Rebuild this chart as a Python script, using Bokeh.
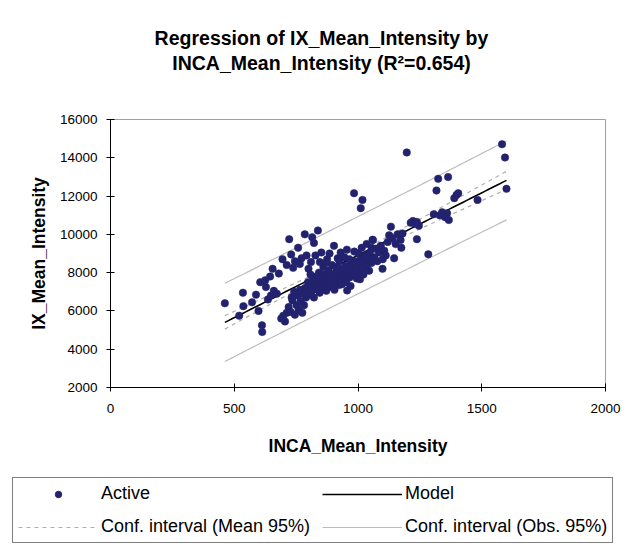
import numpy as np
from bokeh.plotting import figure
from bokeh.layouts import column
from bokeh.models import Legend, LegendItem, Label, FixedTicker, Range1d
from bokeh.embed import file_html
from bokeh.resources import INLINE

# ---------------- data ----------------
inca_mean_intensity = [
    462, 520, 535, 537, 572, 588, 598, 605, 612, 613, 625, 628, 636, 645, 648, 655, 660, 672, 680,
    695, 712, 722, 730, 738, 745, 758, 765, 772, 785, 792, 800, 810, 815, 822, 828, 838, 846, 852,
    860, 875, 885, 903, 918, 930, 955,
    690, 698, 705, 712, 720, 728, 735, 745, 752, 760, 768, 775, 782, 790, 796, 803, 810, 815, 822,
    828, 834, 840, 845, 850, 856, 862, 868, 872, 878, 884, 890, 896, 902, 906, 912, 918, 924, 930,
    936, 940, 946, 950, 956, 960, 966, 972, 976, 982, 988, 992, 998, 1004, 1008, 1012, 1018, 1024,
    1030, 1036, 1042, 1048, 1054, 1060, 1066, 1072, 1078, 1085, 1092, 1099, 1106, 1112, 1120, 1126,
    1133, 1140, 1146, 1152, 1160, 1172,
    880, 895, 905, 915, 925, 935, 945, 952, 965, 970, 985, 995, 1002, 1015, 1022, 1035, 1045, 1055,
    860, 870, 842, 832, 818, 808, 798, 786, 776, 766, 756, 742, 732, 1175, 1180, 1100,
    984, 1011, 1018, 1059, 1197, 1213, 1222, 1230, 1238, 1246, 1238, 1284, 1306, 1317, 1324, 1330,
    1340, 1352, 1360, 1364, 1367, 1389, 1398, 1405, 1483, 1582, 1594, 1600,
]
ix_mean_intensity = [
    6400, 5750, 6950, 6250, 6450, 6850, 6000, 7500, 5250, 4900, 7600, 7250, 6600, 7800, 6800, 8200, 7050, 6900, 7950,
    8700, 8400, 9750, 8950, 8250, 8600, 9300, 8450, 8750, 10000, 8900, 8200, 8550, 9850, 9550, 8900, 10200, 8550, 9050,
    8300, 8700, 9000, 9400, 8750, 9050, 9200,
    5600, 5750, 5450, 5900, 6200, 5950, 6550, 5800, 6300, 6050, 6500, 5900, 6300, 6700, 7000, 6850, 7300, 7050, 6700,
    7400, 7150, 7600, 6950, 7350, 7700, 7200, 7500, 7050, 7800, 7400, 7650, 7250, 7900, 7550, 8100, 7700, 7350, 7950,
    8200, 7600, 7850, 8350, 7070, 8050, 7750, 8450, 8150, 7900, 8600, 8300, 8000, 8450, 7650, 8750, 8200, 8550,
    8900, 8350, 8700, 9050, 8500, 9700, 8800, 9250, 8600, 9050, 9400, 8200, 9150, 8900, 9600, 9950,
    10400, 9800, 8750, 9500, 10000, 9700,
    8100, 8400, 7100, 8300, 8600, 7400, 8800, 7500, 8700, 7300, 9100, 7700, 9000, 9300, 7900, 9500, 8100, 9300,
    7900, 8500, 8000, 7800, 7600, 7900, 7500, 7200, 6900, 7100, 6800, 7000, 6700, 9300, 10050, 8700,
    12150, 11370, 11800, 9720, 14280, 10600, 10700, 10550, 10650, 10450, 9750, 8960, 11050, 12290, 12900, 11000,
    11150, 10900, 11100, 12990, 10750, 11890, 12050, 12150, 11800, 14710, 14015, 12380,
]
x_ticks = [0, 500, 1000, 1500, 2000]
y_ticks = [2000, 4000, 6000, 8000, 10000, 12000, 14000, 16000]
r_squared_text = "0.654"
title_lines = ["Regression of IX_Mean_Intensity by",
               "INCA_Mean_Intensity (R\u00b2=" + r_squared_text + ")"]
x_name = "INCA_Mean_Intensity"
y_name = "IX_Mean_Intensity"
legend_labels = ["Active", "Model", "Conf. interval (Mean 95%)", "Conf. interval (Obs. 95%)"]

# ---------------- regression and 95% intervals ----------------
x = np.array(inca_mean_intensity, dtype=float)
y = np.array(ix_mean_intensity, dtype=float)
n = len(x)
slope, intercept = np.polyfit(x, y, 1)
resid = y - (intercept + slope * x)
s = np.sqrt(np.sum(resid ** 2) / (n - 2))
t975 = 1.972
xm = x.mean()
sxx = np.sum((x - xm) ** 2)
xg = np.linspace(x.min(), x.max(), 80)
yg = intercept + slope * xg
h_mean = t975 * s * np.sqrt(1.0 / n + (xg - xm) ** 2 / sxx)
h_obs = t975 * s * np.sqrt(1.0 + 1.0 / n + (xg - xm) ** 2 / sxx)

FONT = "Liberation Sans"
PT_COLOR = "#22226e"
OBS_STYLE = dict(line_color="#bdbdbd", line_width=1.2)
MEAN_STYLE = dict(line_color="#b0b0b0", line_width=1.2, line_dash="4 4")
MODEL_STYLE = dict(line_color="black", line_width=1.6)
W = 630


def strip(height):
    f = figure(width=W, height=height, output_backend="svg", toolbar_location=None, title=None,
               x_range=Range1d(0, 1), y_range=Range1d(0, 1),
               x_axis_location=None, y_axis_location=None,
               min_border_left=0, min_border_right=0, min_border_top=0, min_border_bottom=0)
    f.frame_align = False
    f.outline_line_color = None
    f.grid.visible = False
    f.background_fill_color = "white"
    f.border_fill_color = "white"
    return f


# ---------------- title strip ----------------
top = strip(110)
for txt, ypos in ((title_lines[0], 73), (title_lines[1], 48)):
    top.add_layout(Label(x=321, y=ypos, x_units="screen", y_units="screen", text=txt,
                         text_align="center", text_baseline="middle", text_font=FONT,
                         text_font_style="bold", text_font_size="19.5px", text_color="black"))

# ---------------- main chart ----------------
p = figure(width=W, height=360, output_backend="svg", toolbar_location=None, title=None,
           x_range=Range1d(0, 2000), y_range=Range1d(2000, 16000),
           min_border_left=110, min_border_right=25, min_border_top=9, min_border_bottom=83)
p.frame_align = False
p.background_fill_color = "white"
p.border_fill_color = "white"
p.outline_line_color = "#a0a0a0"
p.outline_line_width = 1
p.xgrid.visible = False
p.ygrid.visible = False

p.multi_line([list(xg), list(xg)], [list(yg + h_obs), list(yg - h_obs)], **OBS_STYLE)
p.multi_line([list(xg), list(xg)], [list(yg + h_mean), list(yg - h_mean)], **MEAN_STYLE)
p.line(list(xg), list(yg), **MODEL_STYLE)
p.scatter(inca_mean_intensity, ix_mean_intensity, marker="circle", size=7.5,
          fill_color=PT_COLOR, line_color=PT_COLOR, line_width=0.5)

for ax, ticks in ((p.xaxis[0], x_ticks), (p.yaxis[0], y_ticks)):
    ax.ticker = FixedTicker(ticks=ticks)
    ax.minor_tick_line_color = None
    ax.major_tick_in = 4
    ax.major_tick_out = 4
    ax.axis_line_color = "black"
    ax.major_tick_line_color = "black"
    ax.major_label_text_font = FONT
    ax.major_label_text_font_size = "13.5px"
    ax.major_label_text_color = "black"
    ax.axis_label_text_font = FONT
    ax.axis_label_text_font_style = "bold"
    ax.axis_label_text_font_size = "17.5px"
    ax.axis_label_text_color = "black"

p.xaxis.axis_label = x_name
p.yaxis.axis_label = y_name
p.xaxis.major_label_standoff = 12
p.xaxis.axis_label_standoff = 20
p.yaxis.major_label_standoff = 9
p.yaxis.axis_label_standoff = 8

# ---------------- legend strip ----------------
lg = strip(79)
nan2 = [np.nan, np.nan]
k_pts = lg.scatter(nan2, nan2, marker="circle", size=5, fill_color=PT_COLOR, line_color=PT_COLOR)
k_model = lg.line(nan2, nan2, **MODEL_STYLE)
k_mean = lg.line(nan2, nan2, **MEAN_STYLE)
k_obs = lg.line(nan2, nan2, **OBS_STYLE)

legend = Legend(items=[LegendItem(label=legend_labels[0], renderers=[k_pts]),
                       LegendItem(label=legend_labels[1], renderers=[k_model]),
                       LegendItem(label=legend_labels[2], renderers=[k_mean]),
                       LegendItem(label=legend_labels[3], renderers=[k_obs])],
                orientation="horizontal", ncols=2, location=(12, 6),
                glyph_width=80, glyph_height=16, label_standoff=3, spacing=12, padding=5, margin=0,
                label_text_font=FONT, label_text_font_size="18px", label_text_color="black",
                border_line_color="black", border_line_width=1, background_fill_color="white",
                background_fill_alpha=1.0)
lg.add_layout(legend)

open("out.html", "w").write(file_html(column(top, p, lg), INLINE))
